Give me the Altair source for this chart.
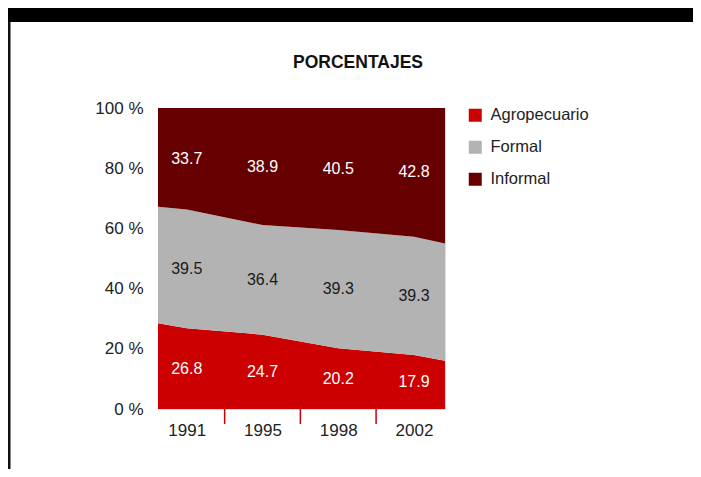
import json
import altair as alt
import pandas as pd

FONT = "Liberation Sans"
TITLE = "PORCENTAJES"

years = ["1991", "1995", "1998", "2002"]
series = ["Agropecuario", "Formal", "Informal"]
agropecuario = [26.8, 24.7, 20.2, 17.9]
formal = [39.5, 36.4, 39.3, 39.3]
informal = [33.7, 38.9, 40.5, 42.8]
# outline of the stacked areas at the left / right plot edges
edge_agropecuario = [28.5, 16.0]
edge_formal = [38.7, 39.0]
y_ticks = [0, 20, 40, 60, 80, 100]
colors = ["#CC0000", "#B3B3B3", "#660000"]

X_DOMAIN = [-0.38, 3.41]
cat_pos = list(range(len(years)))
boundaries = [i + 0.5 for i in cat_pos[:-1]]

# ---- area table (explicit stacking) ----
pos_all = [X_DOMAIN[0]] + cat_pos + [X_DOMAIN[1]]
agro_all = [edge_agropecuario[0]] + agropecuario + [edge_agropecuario[1]]
formal_all = [edge_formal[0]] + formal + [edge_formal[1]]
rows = []
for p, a, f in zip(pos_all, agro_all, formal_all):
    rows.append(dict(pos=p, serie="Agropecuario", y0=0.0, y1=a))
    rows.append(dict(pos=p, serie="Formal", y0=a, y1=a + f))
    rows.append(dict(pos=p, serie="Informal", y0=a + f, y1=100.0))
area_df = pd.DataFrame(rows)

# ---- label table ----
lab_rows = []
for i, (a, f, inf) in enumerate(zip(agropecuario, formal, informal)):
    lab_rows.append(dict(pos=i, serie="Agropecuario", value=a, mid=a / 2))
    lab_rows.append(dict(pos=i, serie="Formal", value=f, mid=a + f / 2))
    lab_rows.append(dict(pos=i, serie="Informal", value=inf, mid=a + f + inf / 2))
label_df = pd.DataFrame(lab_rows)

tick_df = pd.DataFrame({"pos": boundaries})
one = pd.DataFrame({"k": [0]})

x_scale = alt.Scale(domain=X_DOMAIN, nice=False, zero=False)
y_scale = alt.Scale(domain=[0, 100], nice=False, zero=True)

year_expr = json.dumps(years) + "[datum.value]"

area = alt.Chart(area_df).mark_area(interpolate="linear", opacity=1).encode(
    x=alt.X("pos:Q", scale=x_scale,
            axis=alt.Axis(values=cat_pos, labelExpr=year_expr, ticks=False, grid=False,
                          domain=False, labelFontSize=17, labelFont=FONT, labelColor="#222222",
                          labelPadding=13, labelFlush=False, title=None)),
    y=alt.Y("y1:Q", scale=y_scale,
            axis=alt.Axis(values=y_ticks, labelExpr="datum.value + ' %'", ticks=False,
                          grid=False, domain=False, labelFontSize=17, labelFont=FONT,
                          labelColor="#222222", labelPadding=15, title=None)),
    y2="y0:Q",
    color=alt.Color("serie:N", scale=alt.Scale(domain=series, range=colors),
                    legend=alt.Legend(title=None, orient="none", legendX=309, legendY=-1,
                                      symbolType="square", symbolSize=169,
                                      symbolStrokeWidth=0, symbolOpacity=1,
                                      labelFontSize=16.5, labelFont=FONT,
                                      labelColor="#222222", labelOffset=7,
                                      rowPadding=15, padding=0)),
)

labels = alt.Chart(label_df).mark_text(font=FONT, fontSize=16, align="center",
                                       baseline="middle").encode(
    x=alt.X("pos:Q", scale=x_scale),
    y=alt.Y("mid:Q", scale=y_scale),
    text=alt.Text("value:Q", format=".1f"),
    color=alt.condition(alt.datum.serie == "Formal", alt.value("#1a1a1a"), alt.value("#ffffff")),
)

ticks = alt.Chart(tick_df).mark_rule(color="#CC0000", strokeWidth=1.5).encode(
    x=alt.X("pos:Q", scale=x_scale),
    y=alt.value(301),
    y2=alt.value(316),
)

top_bar = alt.Chart(one).mark_rect(color="#000000").encode(
    x=alt.value(-150), x2=alt.value(535), y=alt.value(-100), y2=alt.value(-86))
left_line = alt.Chart(one).mark_rect(color="#111111").encode(
    x=alt.value(-150), x2=alt.value(-147.5), y=alt.value(-86), y2=alt.value(361))
title = alt.Chart(one).mark_text(font=FONT, fontSize=17.5, fontWeight="bold", align="center",
                                 baseline="alphabetic", color="#111111").encode(
    x=alt.value(200), y=alt.value(-40), text=alt.value(TITLE))

chart = alt.layer(top_bar, left_line, title, area, labels, ticks).properties(
    width=287, height=301,
    padding={"left": 150, "top": 100, "right": 248, "bottom": 60},
    autosize=alt.AutoSizeParams(type="none"),
).configure_view(stroke="#CC0000", strokeWidth=2).configure(background="white")

chart.save("out.html", embed_options={"renderer": "svg", "actions": False})
